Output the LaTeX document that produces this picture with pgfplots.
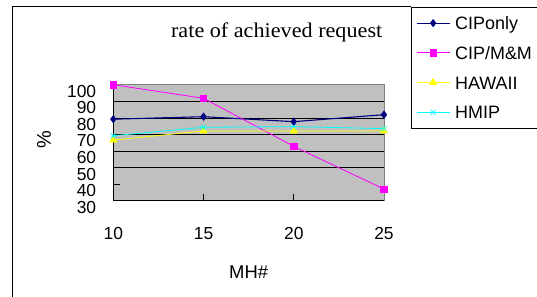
\documentclass[border=0pt]{standalone}
\usepackage{fontspec}
\setmainfont{Liberation Serif}
\newfontfamily\arial{Liberation Sans}
\usepackage{pgfplots}
\pgfplotsset{compat=1.18}
\definecolor{plotgray}{RGB}{192,192,192}
\definecolor{navyc}{RGB}{0,0,128}
\definecolor{magc}{RGB}{255,0,255}
\definecolor{yelc}{RGB}{255,255,0}
\definecolor{cyac}{RGB}{0,255,255}
\begin{document}
\begin{tikzpicture}
\useasboundingbox (-113.3bp,-96.3bp) rectangle (423.7bp,200.7bp);
\begin{axis}[
 scale only axis, width=270.7bp, height=116bp,
 xmin=10, xmax=25, ymin=30, ymax=100,
 xtick={10,15,20,25}, ytick={30,40,...,100},
 extra y ticks={50,60,70,80,90}, extra y tick labels={},
 extra y tick style={grid=major, major tick length=0pt},
 grid style={black, line width=0.7bp},
 tick pos=left, major tick length=6.7bp, tick style={black, line width=0.7bp},
 axis background/.style={fill=plotgray},
 axis line style={draw=gray, line width=0.8bp},
 clip=false,
 /pgf/number format/assume math mode=true,
 ticklabel style={font=\arial\fontsize{17.5}{17.5}\selectfont},
 yticklabel style={xshift=-13.6bp, yshift=-6.5bp},
 xticklabel style={yshift=-23.6bp},
 xlabel={MH\#}, ylabel={\%},
 x label style={at={(axis description cs:0.5,-0.612)}, anchor=center, font=\arial\fontsize{18.5}{18.5}\selectfont},
 y label style={at={(axis description cs:-0.256,0.523)}, anchor=center, font=\arial\fontsize{20}{20}\selectfont},
 title={rate of achieved request},
 title style={at={(axis description cs:0.6036,1.357)}, anchor=base, font=\fontsize{21}{21}\selectfont, xscale=1.06},
 legend style={at={(axis description cs:1.0986,1.6724)}, anchor=north west, draw=black, line width=0.8bp, fill=white,
   inner xsep=5bp, inner ysep=9.5bp, row sep=16.7bp, font=\arial\fontsize{18}{18}\selectfont,
   nodes={inner sep=0pt, text height=13bp, text depth=0bp},
   /tikz/every odd column/.append style={column sep=5bp}},
 legend cell align=left,
 legend image code/.code={\draw[mark repeat=2,mark phase=2] plot coordinates {(0bp,0bp) (16.5bp,0bp) (33bp,0bp)};},
]
\draw[black, line width=0.8bp] (rel axis cs:0,1) -- (rel axis cs:0,0) -- (rel axis cs:1,0);
\addplot[navyc, line width=1.1bp, mark=diamond*, mark size=3.3bp, mark options={solid, fill=navyc}] coordinates {(10,79.2)(15,80.7)(20,77.7)(25,81.9)};
\addlegendentry{CIPonly}
\addplot[magc, line width=0.8bp, mark=square*, mark size=3.2bp, mark options={solid, fill=magc}] coordinates {(10,100)(15,91.8)(20,62.8)(25,37)};
\addlegendentry{CIP/M\&M}
\addplot[yelc, line width=0.8bp, mark=triangle*, mark size=4bp, mark options={solid, fill=yelc}] coordinates {(10,66.6)(15,72.1)(20,72.1)(25,72.1)};
\addlegendentry{HAWAII}
\addplot[cyac, line width=0.8bp, mark=x, mark size=3.5bp, mark options={solid}] coordinates {(10,69.2)(15,74.3)(20,74.7)(25,73.5)};
\addlegendentry{HMIP}
\end{axis}
\draw[black, line width=0.8bp] (-100.6bp,-96.3bp) -- (-100.6bp,194bp) -- (297.4bp,194bp);
\end{tikzpicture}
\end{document}
